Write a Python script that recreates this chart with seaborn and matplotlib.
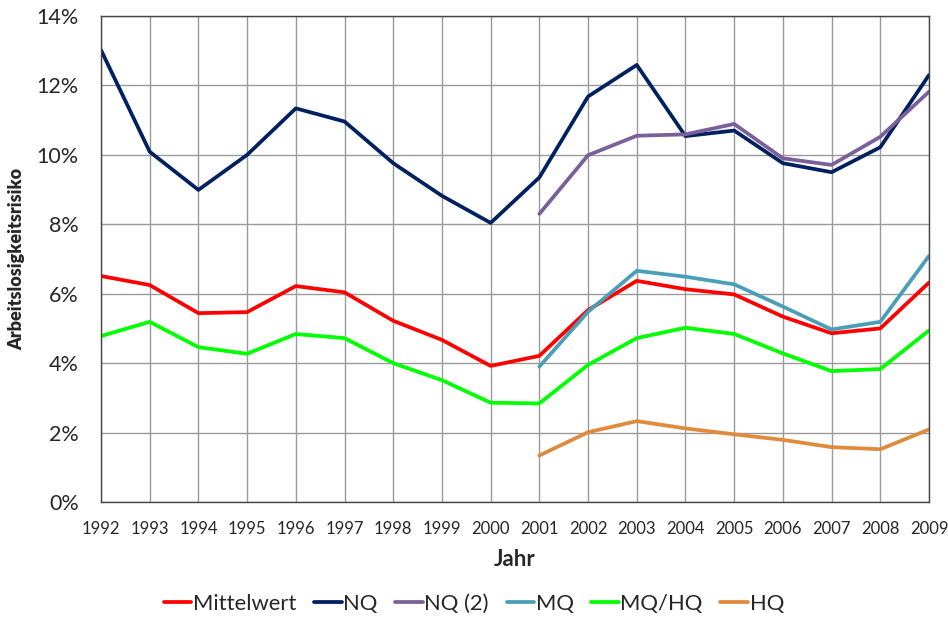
import numpy as np
import pandas as pd
import matplotlib
matplotlib.use("Agg")
import matplotlib.pyplot as plt
import seaborn as sns
from matplotlib.ticker import FuncFormatter

years = list(range(1992, 2010))
nan = np.nan

mittelwert = [6.51, 6.25, 5.44, 5.47, 6.22, 6.04, 5.22, 4.67, 3.92, 4.21,
              5.53, 6.37, 6.13, 5.98, 5.34, 4.86, 5.00, 6.32]
nq = [13.02, 10.09, 8.99, 10.00, 11.34, 10.96, 9.76, 8.82, 8.04, 9.35,
      11.68, 12.59, 10.54, 10.70, 9.76, 9.50, 10.22, 12.30]
nq2 = [nan] * 9 + [8.30, 9.99, 10.55, 10.59, 10.89, 9.90, 9.71, 10.52, 11.82]
mq = [nan] * 9 + [3.90, 5.48, 6.66, 6.49, 6.27, 5.63, 4.97, 5.19, 7.09]
mq_hq = [4.78, 5.19, 4.46, 4.27, 4.84, 4.72, 4.00, 3.51, 2.86, 2.84,
         3.95, 4.72, 5.02, 4.84, 4.28, 3.77, 3.83, 4.94]
hq = [nan] * 9 + [1.34, 2.01, 2.33, 2.12, 1.95, 1.79, 1.58, 1.52, 2.09]

series = {
    "Mittelwert": mittelwert,
    "NQ": nq,
    "NQ (2)": nq2,
    "MQ": mq,
    "MQ/HQ": mq_hq,
    "HQ": hq,
}
colors = {
    "Mittelwert": "#FF0000",
    "NQ": "#002060",
    "NQ (2)": "#7A5F9A",
    "MQ": "#4A9FB8",
    "MQ/HQ": "#00FF00",
    "HQ": "#E08A3C",
}

df = pd.DataFrame([
    {"Jahr": y, "Wert": v, "Reihe": name}
    for name, vals in series.items()
    for y, v in zip(years, vals)
]).dropna()

sns.set_style("white")
plt.rcParams["font.family"] = ["Lato", "DejaVu Sans"]

fig = plt.figure(figsize=(9.48, 6.17), dpi=100)
ax = fig.add_axes([101 / 948, 1 - 502 / 617, (929 - 101) / 948, (502 - 16) / 617])

sns.lineplot(data=df, x="Jahr", y="Wert", hue="Reihe", hue_order=list(series),
             palette=colors, linewidth=2.7, ax=ax, legend=True)

ax.set_xlim(1992, 2009)
ax.set_ylim(0, 14)
ax.set_xticks(years)
ax.set_yticks(range(0, 15, 2))
ax.yaxis.set_major_formatter(FuncFormatter(lambda v, p: f"{v:.0f}%"))
ax.tick_params(axis="x", labelsize=12, length=6, width=0.8, color="#888888", pad=8)
ax.tick_params(axis="y", labelsize=15.5, length=6, width=0.8, color="#888888", pad=10)
ax.grid(True, color="#9a9a9a", linewidth=1.0)
ax.set_axisbelow(True)
for s in ax.spines.values():
    s.set_color("#444444")
    s.set_linewidth(1.0)

ax.set_xlabel("Jahr", fontsize=16, fontweight="bold", labelpad=8)
ax.set_ylabel("Arbeitslosigkeitsrisiko", fontsize=13, fontweight="heavy", labelpad=8)

# legend centred on the whole figure, below the axis title
handles, labels = ax.get_legend_handles_labels()
ax.get_legend().remove()
fig.legend(handles, labels, loc="center", bbox_to_anchor=(0.5, 1 - 604 / 617), ncol=6,
           frameon=False, fontsize=15.8, handlelength=1.25, handletextpad=0.08,
           columnspacing=0.8)

fig.savefig("out.png", dpi=100)
